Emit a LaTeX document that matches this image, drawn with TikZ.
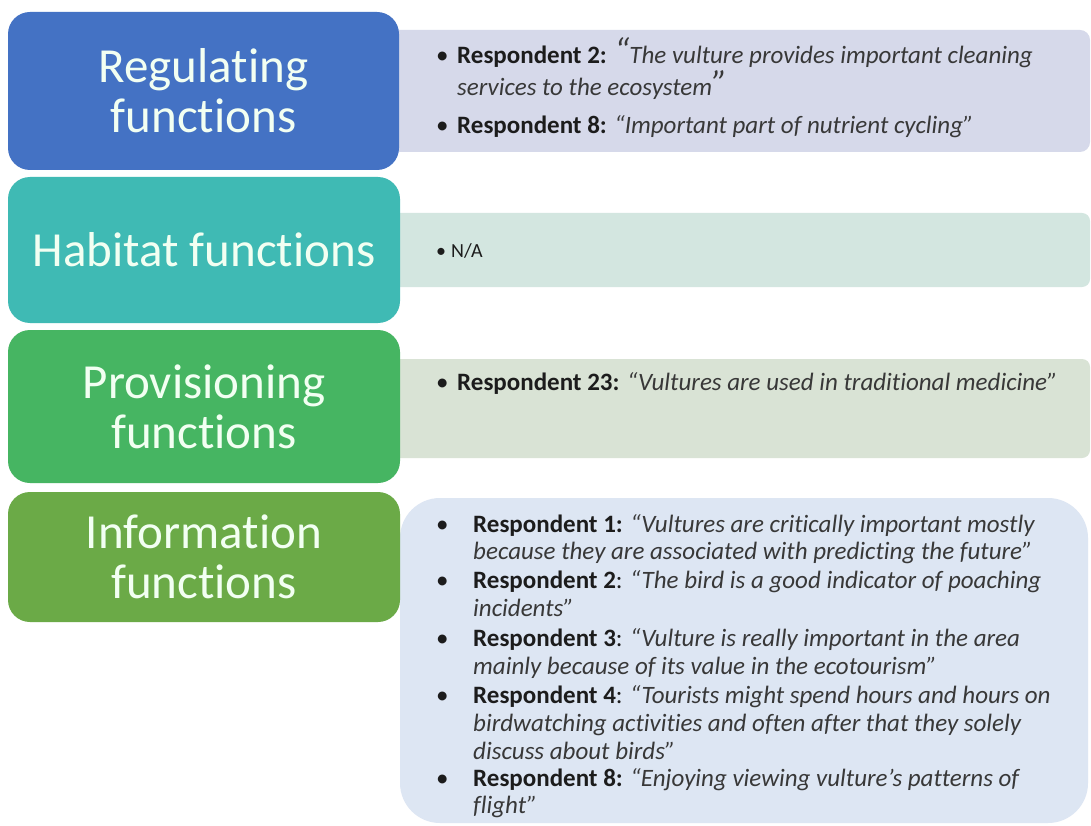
\documentclass[tikz,border=0pt]{standalone}
\usepackage{fontspec}
\setmainfont{Carlito}[Ligatures=NoCommon]
\definecolor{regc}{HTML}{4472C4}
\definecolor{habc}{HTML}{3FBAB4}
\definecolor{proc}{HTML}{46B562}
\definecolor{infc}{HTML}{6BAA47}
\definecolor{regp}{HTML}{D6D9EA}
\definecolor{habp}{HTML}{D3E6E0}
\definecolor{prop}{HTML}{D9E3D5}
\definecolor{infp}{HTML}{DDE6F3}
\definecolor{ttl}{HTML}{F2FFF2}
\definecolor{txtb}{HTML}{1C1C1C}
\definecolor{txti}{HTML}{383838}
\newcommand{\myq}[1]{{\color{txti}\itshape #1}}
\newcommand{\bigq}[1]{{\color{txti}\fontsize{36}{36}\selectfont\itshape #1}}
\begin{document}
\begin{tikzpicture}[x=1pt,y=-1pt,
  catbox/.style={draw=none, rounded corners=22pt, inner sep=0pt, text=ttl,
    font=\fontsize{49}{50}\selectfont, align=center},
  panel/.style={draw=none, inner sep=0pt},
  txt/.style={anchor=base west, inner sep=0pt, text=txtb, font=\fontsize{25}{30}\selectfont},
  bul/.style={anchor=base west, inner sep=0pt, text=txtb, font=\fontsize{25}{30}\selectfont},
  small/.style={anchor=base west, inner sep=0pt, text=txtb, font=\fontsize{20}{24}\selectfont}
]
\useasboundingbox (0,0) rectangle (1091,826);
\fill[white] (0,0) rectangle (1091,826);

% panels
\node[panel, fill=regp, rounded corners=10pt, minimum width=705pt, minimum height=122pt] (regpanel) at (737.5,91) {};
\node[panel, fill=habp, rounded corners=8pt, minimum width=705pt, minimum height=74pt] (habpanel) at (737.5,250) {};
\node[panel, fill=prop, rounded corners=8pt, minimum width=705pt, minimum height=99pt] (propanel) at (737.5,408.5) {};
\node[panel, fill=infp, rounded corners=40pt, minimum width=688pt, minimum height=325pt] (infpanel) at (744,660.5) {};

% category boxes
\node[catbox, fill=regc, minimum width=391pt, minimum height=158pt] (reg) at (203.5,91) {Regulating\\functions};
\node[catbox, fill=habc, minimum width=392pt, minimum height=146pt] (hab) at (204,250) {Habitat functions};
\node[catbox, fill=proc, minimum width=392pt, minimum height=153pt] (pro) at (204,406.5) {Provisioning\\functions};
\node[catbox, fill=infc, minimum width=392pt, minimum height=130pt] (inf) at (204,557) {Information\\functions};

% regulating text
\node[bul] (rb1) at (436,64) {•};
\node[txt] (r1) at (457,64) {\textbf{Respondent 2:} \bigq{“}\myq{The vulture provides important cleaning}};
\node[txt] (r2) at (457,96) {\myq{services to the ecosystem}\bigq{”}};
\node[bul] (rb3) at (436,134) {•};
\node[txt] (r3) at (457,134) {\textbf{Respondent 8:} \myq{“Important part of nutrient cycling”}};

% habitat text
\node[small] (hb1) at (436,257) {•};
\node[small] (h1) at (451,257) {N/A};

% provisioning text
\node[bul] (pb1) at (436,390) {•};
\node[txt] (p1) at (457,390) {\textbf{Respondent 23:} \myq{“Vultures are used in traditional medicine”}};

% information text
\node[bul] (ib1) at (436,532) {•};
\node[txt] (i1) at (473,532) {\textbf{Respondent 1:} \myq{“Vultures are critically important mostly}};
\node[txt] (i2) at (473,559) {\myq{because they are associated with predicting the future”}};
\node[bul] (ib3) at (436,588) {•};
\node[txt] (i3) at (473,588) {\textbf{Respondent 2}: \myq{“The bird is a good indicator of poaching}};
\node[txt] (i4) at (473,616) {\myq{incidents”}};
\node[bul] (ib5) at (436,646) {•};
\node[txt] (i5) at (473,646) {\textbf{Respondent 3}: \myq{“Vulture is really important in the area}};
\node[txt] (i6) at (473,674) {\myq{mainly because of its value in the ecotourism”}};
\node[bul] (ib7) at (436,703) {•};
\node[txt] (i7) at (473,703) {\textbf{Respondent 4}: \myq{“Tourists might spend hours and hours on}};
\node[txt] (i8) at (473,731) {\myq{birdwatching activities and often after that they solely}};
\node[txt] (i9) at (473,759) {\myq{discuss about birds”}};
\node[bul] (ib10) at (436,786) {•};
\node[txt] (i10) at (473,786) {\textbf{Respondent 8:} \myq{“Enjoying viewing vulture’s patterns of}};
\node[txt] (i11) at (473,813) {\myq{flight”}};
\end{tikzpicture}
\end{document}
